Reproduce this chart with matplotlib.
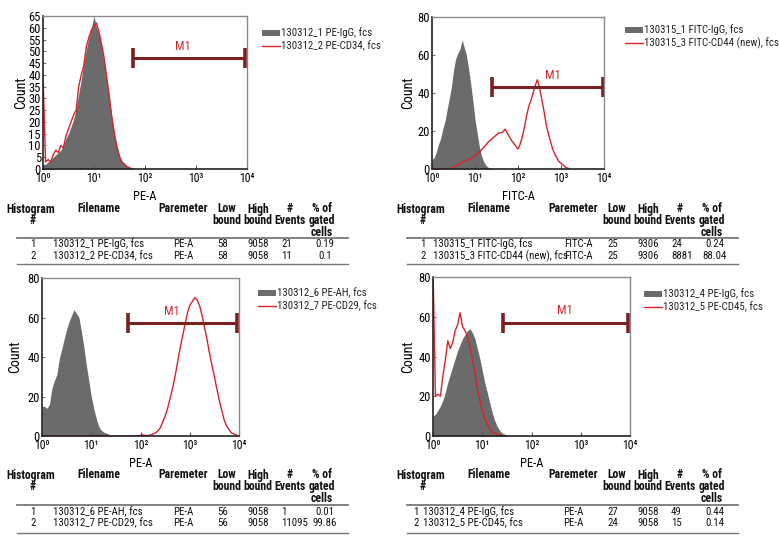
import numpy as np
import matplotlib
matplotlib.use('Agg')
import matplotlib.pyplot as plt
from matplotlib import font_manager
from matplotlib.patches import Rectangle
from matplotlib.lines import Line2D
from matplotlib.ticker import LogLocator, NullFormatter

avail = {f.name for f in font_manager.fontManager.ttflist}
cands = ['Liberation Sans Narrow', 'Roboto Condensed', 'Liberation Sans']
MAIN = next((c for c in cands if c in avail), 'DejaVu Sans')
plt.rcParams['font.family'] = [MAIN, 'DejaVu Sans']

# ---------------- data ----------------
BIN = 0.05  # decades per histogram bin
xticklabels = ['10\u2070', '10\u00b9', '10\u00b2', '10\u00b3', '10\u2074']

# panel 1 : PE-IgG (grey) vs PE-CD34 (red)
p1_igg = [2, 2, 3, 4, 5, 6, 7, 8, 10, 13, 15, 18, 21, 26, 32, 38, 45, 51, 56, 60,
          65, 60, 57, 52, 45, 38, 30, 22, 15, 10, 6, 3, 2, 1, 0.5, 0.3, 0]
p1_pos = [40, 3, 4, 3, 6, 8, 7, 10, 9, 14, 17, 20, 23, 25, 35, 40, 44, 52, 56, 59,
          61, 62, 58, 53, 47, 39, 31, 22, 15, 9, 5, 3, 2, 1, 0.5, 0]
# panel 2 : FITC-IgG (grey) vs FITC-CD44 (red)
p2_igg = [5, 6, 9, 13, 16, 21, 25, 31, 37, 43, 52, 58, 61, 63, 68, 64, 60, 53, 45, 36,
          26, 19, 12, 7, 4, 2, 1, 0.5, 0]
p2_pos = [0, 0, 0, 0, 0, 0, 0, 0, 0, 0.5, 1, 1.5, 2, 3, 3.5, 4, 4.5, 5, 5.5, 6,
          7, 8, 9, 10, 11.5, 12.5, 14, 15, 16, 17, 18, 19, 19, 19.5, 21, 19, 17, 15, 13.5, 12,
          10.5, 13, 17, 22, 28, 33, 36, 40, 44, 47, 43, 37, 31, 24, 19, 15, 11, 8, 6, 4,
          3, 2, 1, 0.5, 0]
# panel 3 : PE-AH (grey) vs PE-CD29 (red)
p3_igg = [15, 15, 14, 16, 24, 28, 31, 39, 44, 49, 54, 58, 61, 64, 62, 60, 53, 45, 36, 28,
          20, 14, 9, 5, 3, 2, 1.5, 1, 0.5, 0]
p3_pos = [0, 0, 0, 0, 0, 0, 0, 0, 0, 0, 0, 0, 0, 0, 0, 0, 0, 0, 0, 0,
          0, 0, 0, 0, 0, 0, 0, 0, 0, 0, 0, 0, 0, 0, 0, 0, 0, 0, 0, 0,
          0.3, 0.5, 0.2, 0.3, 0.5, 1, 1.5, 2.5, 4, 7, 10, 14, 19, 24, 30, 37, 44, 50, 56, 62,
          66, 68, 70, 69, 66, 61, 55, 49, 42, 36, 30, 24, 18, 13, 8, 5, 3, 1.5, 1, 0.5]
# panel 4 : PE-IgG (grey) vs PE-CD45 (red)
p4_igg = [10, 11, 13, 15, 18, 22, 27, 31, 35, 39, 43, 46, 49, 51, 53, 54, 52, 49, 44, 39,
          33, 27, 22, 17, 12, 8, 5, 3, 1.5, 1, 0.5, 0]
p4_pos = [85, 20, 21, 20, 30, 38, 48, 44, 47, 53, 56, 62, 55, 53, 50, 45, 38, 32, 24, 18,
          13, 9, 6, 4, 2, 1.5, 1, 0.5, 0]

# tables
t1_hist = [1, 2]
t1_file = ['130312_1 PE-IgG, fcs', '130312_2 PE-CD34, fcs']
t1_param = ['PE-A', 'PE-A']
t1_low = [58, 58]
t1_high = [9058, 9058]
t1_events = [21, 11]
t1_pct = ['0.19', '0.1']

t2_hist = [1, 2]
t2_file = ['130315_1 FITC-IgG, fcs', '130315_3 FITC-CD44 (new), fcs']
t2_param = ['FITC-A', 'FITC-A']
t2_low = [25, 25]
t2_high = [9306, 9306]
t2_events = [24, 8881]
t2_pct = ['0.24', '88.04']

t3_hist = [1, 2]
t3_file = ['130312_6 PE-AH, fcs', '130312_7 PE-CD29, fcs']
t3_param = ['PE-A', 'PE-A']
t3_low = [56, 56]
t3_high = [9058, 9058]
t3_events = [1, 11095]
t3_pct = ['0.01', '99.86']

t4_hist = [1, 2]
t4_file = ['130312_4 PE-IgG, fcs', '130312_5 PE-CD45, fcs']
t4_param = ['PE-A', 'PE-A']
t4_low = [27, 24]
t4_high = [9058, 9058]
t4_events = [49, 15]
t4_pct = ['0.44', '0.14']

headers = [['Histogram', '#'], ['Filename'], ['Paremeter'], ['Low', 'bound'],
           ['High', 'bound'], ['#', 'Events'], ['% of', 'gated', 'cells']]

# ---------------- style ----------------
W, H = 780, 540
GRAY = '#6b6b6b'
RED = '#d8232a'
DARKRED = '#7a1f22'
M1RED = '#d02a30'
TXT = 7.8

fig = plt.figure(figsize=(W / 100, H / 100), dpi=100)
fig.patch.set_facecolor('white')


def fx(x):
    return x / W


def fy(y):
    return 1 - y / H


def panel(rect, igg, pos, ymax, ystep, low, high, m1y, lab_log, xlabel, leg_xy,
          labels, count_x):
    l, t, r, b = rect
    ax = fig.add_axes([fx(l), fy(b), (r - l) / W, (b - t) / H])
    x1 = 10 ** (np.arange(len(igg)) * BIN)
    x2 = 10 ** (np.arange(len(pos)) * BIN)
    ax.fill_between(x1, igg, 0, color=GRAY, lw=0)
    ax.plot(x2, pos, color=RED, lw=1.0)
    ax.set_xscale('log')
    ax.set_xlim(1, 1e4)
    ax.set_ylim(0, ymax)
    ax.set_xticks([1, 10, 100, 1000, 10000])
    ax.set_xticklabels(xticklabels, fontsize=8.5)
    ax.xaxis.set_minor_locator(LogLocator(base=10, subs=np.arange(2, 10)))
    ax.xaxis.set_minor_formatter(NullFormatter())
    ax.set_yticks(np.arange(0, ymax + 0.1, ystep))
    ax.tick_params(axis='y', labelsize=9, pad=1.5, direction='in', length=2,
                   color='#777')
    ax.tick_params(axis='x', which='major', pad=2.5, direction='in', length=3,
                   color='#555')
    ax.tick_params(axis='x', which='minor', direction='in', length=2, color='#777')
    for s in ['top', 'right']:
        ax.spines[s].set_color('#8a8a8a')
        ax.spines[s].set_linewidth(1.0)
    for s in ['left', 'bottom']:
        ax.spines[s].set_color('#222')
        ax.spines[s].set_linewidth(1.2)
    ax.set_xlabel(xlabel, fontsize=9, labelpad=3)
    # M1 gate marker
    ax.plot([low, high], [m1y, m1y], color=DARKRED, lw=2.2, marker='|',
            markersize=14, mew=2.6, solid_capstyle='butt', clip_on=False)
    ax.annotate('M1', xy=(10 ** lab_log, m1y), xytext=(0, 8.5),
                textcoords='offset points', ha='center', va='center',
                color=M1RED, fontsize=9)
    # Count label
    fig.text(fx(count_x), fy((t + b) / 2), 'Count', rotation=90, ha='center',
             va='center', fontsize=10)
    # legend
    lx, ly = leg_xy
    fig.add_artist(Rectangle((fx(lx), fy(ly + 3)), 18 / W, 6 / H,
                             transform=fig.transFigure, color=GRAY, lw=0))
    fig.add_artist(Line2D([fx(lx), fx(lx + 18)], [fy(ly + 13), fy(ly + 13)],
                          transform=fig.transFigure, color=RED, lw=1.0))
    fig.text(fx(lx + 19), fy(ly), labels[0], ha='left', va='center', fontsize=TXT,
             color='#222')
    fig.text(fx(lx + 19), fy(ly + 13), labels[1], ha='left', va='center',
             fontsize=TXT, color='#222')
    return ax


panel((43, 16, 247, 169), p1_igg, p1_pos, 65, 5, t1_low[0], t1_high[0], 47, 2.75,
      'PE-A', (262, 33), t1_file, 21)
panel((432, 17, 604, 169), p2_igg, p2_pos, 80, 20, t2_low[0], t2_high[0], 43, 2.81,
      'FITC-A', (625, 30), t2_file, 408)
panel((42, 278, 239, 436), p3_igg, p3_pos, 80, 20, t3_low[0], t3_high[0], 57, 2.64,
      'PE-A', (258, 293), t3_file, 15)
panel((433, 277, 630, 436), p4_igg, p4_pos, 80, 20, t4_low[0], t4_high[0], 57, 2.68,
      'PE-A', (644, 294), t4_file, 408)


def table(ox, hy, line_y, row_ys, bottom_y, num_x, fn_x, param_x,
          hist, files, params, lows, highs, events, pcts):
    hx = [31, 99, 183, 227, 258, 290, 322]
    for x, lines in zip(hx, headers):
        for k, s in enumerate(lines):
            fig.text(fx(ox + x + (2 if s == '#' and x == 31 else 0)), fy(hy + 11.5 * k),
                     s, ha='center', va='center', fontsize=8.5, fontweight='bold',
                     color='#111')
    fig.add_artist(Line2D([fx(ox + 17), fx(ox + 348)], [fy(line_y), fy(line_y)],
                          transform=fig.transFigure, color='#777', lw=1.3))
    fig.add_artist(Line2D([fx(ox + 17), fx(ox + 348)], [fy(bottom_y), fy(bottom_y)],
                          transform=fig.transFigure, color='#777', lw=1.0))
    for i, y in enumerate(row_ys):
        kw = dict(va='center', fontsize=TXT, color='#111')
        fig.text(fx(ox + num_x), fy(y), str(hist[i]), ha='center', **kw)
        fig.text(fx(ox + fn_x), fy(y), files[i], ha='left', **kw)
        fig.text(fx(ox + param_x), fy(y), params[i], ha='center', **kw)
        fig.text(fx(ox + 223), fy(y), str(lows[i]), ha='center', **kw)
        fig.text(fx(ox + 258), fy(y), str(highs[i]), ha='center', **kw)
        fig.text(fx(ox + 281), fy(y), str(events[i]), ha='left', **kw)
        fig.text(fx(ox + 325), fy(y), pcts[i], ha='center', **kw)


table(0, 209, 238, [244, 256], 264, 33, 53, 183,
      t1_hist, t1_file, t1_param, t1_low, t1_high, t1_events, t1_pct)
table(390, 209, 238, [244, 256], 264, 33, 43, 188,
      t2_hist, t2_file, t2_param, t2_low, t2_high, t2_events, t2_pct)
table(0, 475, 505, [512, 523], 533, 33, 53, 183,
      t3_hist, t3_file, t3_param, t3_low, t3_high, t3_events, t3_pct)
table(390, 475, 505, [512, 523], 533, 26, 33, 183,
      t4_hist, t4_file, t4_param, t4_low, t4_high, t4_events, t4_pct)

fig.savefig('out.png', dpi=100, facecolor='white')
print(MAIN)
